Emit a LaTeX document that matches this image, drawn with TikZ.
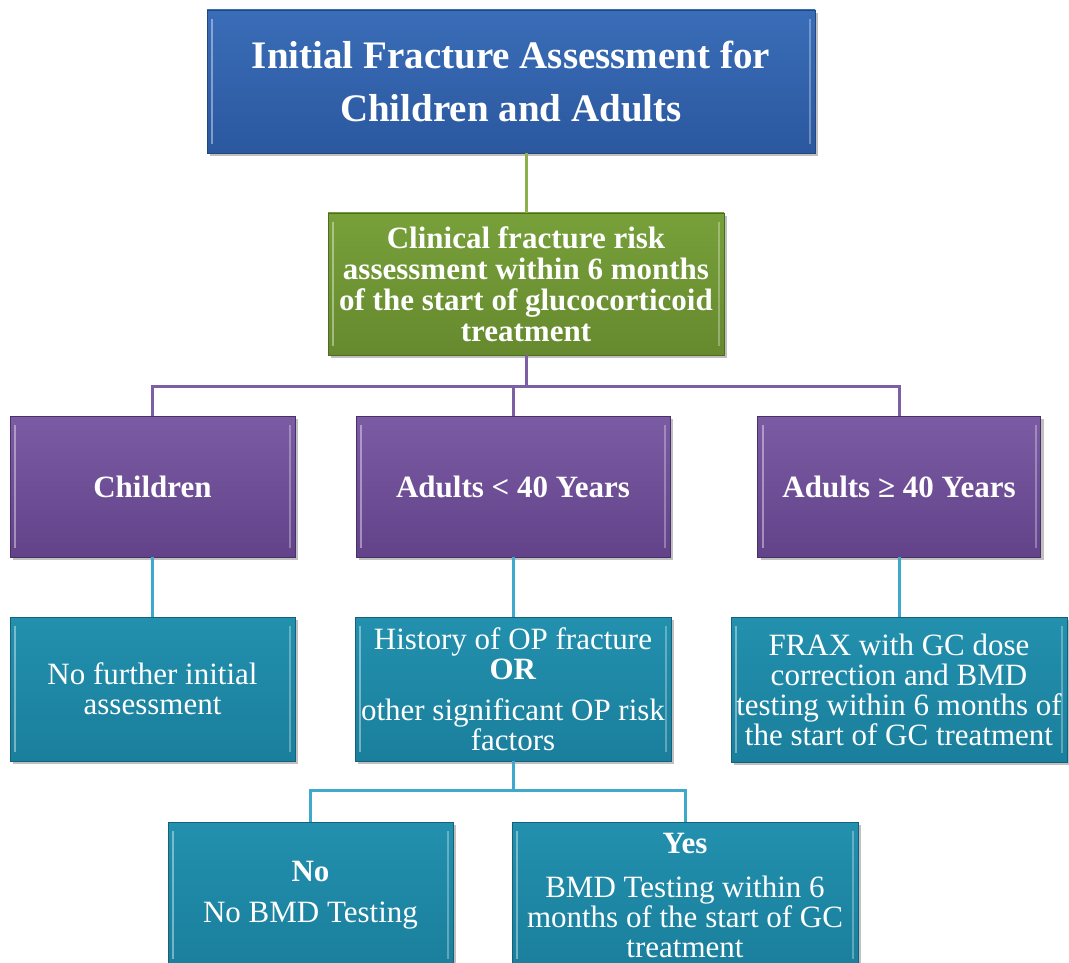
\documentclass[tikz,border=0pt]{standalone}
\usepackage{fontspec}
\setmainfont{Liberation Serif}
\usetikzlibrary{shadows}
\definecolor{blueT}{HTML}{3A6DB8}
\definecolor{blueB}{HTML}{2B589F}
\definecolor{blueE}{HTML}{21477F}
\definecolor{greenT}{HTML}{77A03A}
\definecolor{greenB}{HTML}{66892E}
\definecolor{greenE}{HTML}{4E6B22}
\definecolor{purT}{HTML}{7B5BA3}
\definecolor{purB}{HTML}{62438A}
\definecolor{purE}{HTML}{4A3068}
\definecolor{tealT}{HTML}{2290AE}
\definecolor{tealB}{HTML}{1A7F9C}
\definecolor{tealE}{HTML}{13617A}
\definecolor{lgreen}{HTML}{8DB04C}
\definecolor{lpur}{HTML}{7D5FA6}
\definecolor{lteal}{HTML}{3FA9CB}
\begin{document}
\begin{tikzpicture}[x=1pt,y=-1pt,
  box/.style={rectangle, inner sep=0pt, align=center, text=white,
    draw=#1E, line width=0.8pt, top color=#1T, bottom color=#1B,
    drop shadow={shadow xshift=3pt, shadow yshift=-3pt, opacity=0.35, fill=black!70},
    path picture={
      \draw[white, opacity=0.4, line width=2pt]
        ([shift={(5pt,-9pt)}]path picture bounding box.north west) --
        ([shift={(5pt,9pt)}]path picture bounding box.south west);
      \draw[white, opacity=0.3, line width=2pt]
        ([shift={(-5pt,-9pt)}]path picture bounding box.north east) --
        ([shift={(-5pt,9pt)}]path picture bounding box.south east);
    }},
  bigfont/.style={font=\fontsize{39}{53}\selectfont\bfseries},
  boldfont/.style={font=\fontsize{31}{31}\selectfont\bfseries},
  plainfont/.style={font=\fontsize{31}{30}\selectfont},
  conn/.style={line width=3pt, #1}
]
\clip (0,0) rectangle (1069,963);
\fill[white] (0,0) rectangle (1069,963);

% top
\node[box=blue, bigfont, minimum width=608pt, minimum height=143pt] (top) at (511,81.5)
  {Initial Fracture Assessment for\\Children and Adults};
% green
\node[box=green, boldfont, minimum width=396pt, minimum height=142pt] (clin) at (526,284)
  {Clinical fracture risk\\assessment within 6 months\\of the start of glucocorticoid\\treatment};
% purple
\node[box=pur, boldfont, minimum width=285pt, minimum height=141pt] (child) at (152.5,486.5) {Children};
\node[box=pur, boldfont, minimum width=314pt, minimum height=141pt] (ageL) at (513,486.5) {Adults < 40 Years};
\node[box=pur, boldfont, minimum width=283pt, minimum height=141pt] (ageG) at (899,486.5) {Adults ≥ 40 Years};
% teal row 1
\node[box=teal, plainfont, minimum width=285pt, minimum height=144pt] (tl) at (152.5,689)
  {No further initial\\assessment};
\node[box=teal, plainfont, minimum width=316pt, minimum height=144pt] (tm) at (513,689)
  {History of OP fracture\\\textbf{OR}\\[11pt]other significant OP risk\\factors};
\node[box=teal, plainfont, minimum width=336pt, minimum height=145pt] (tr) at (899,689.5)
  {FRAX with GC dose\\correction and BMD\\testing within 6 months of\\the start of GC treatment};
% teal row 2
\node[box=teal, plainfont, minimum width=285pt, minimum height=146pt] (no) at (310.5,895)
  {\textbf{No}\\[11pt]No BMD Testing};
\node[box=teal, plainfont, minimum width=346pt, minimum height=146pt] (yes) at (685,895)
  {\textbf{Yes}\\[14pt]BMD Testing within 6\\months of the start of GC\\treatment};

% connectors
\coordinate (bus1) at (526,386);
\coordinate (bus2) at (513,790);
\draw[conn=lgreen] (top.south -| clin.north) -- (clin.north);
\draw[conn=lpur] (clin.south) -- (clin.south |- bus1);
\draw[conn=lpur] (child.north) -- (child.north |- bus1) -- (ageG.north |- bus1) -- (ageG.north);
\draw[conn=lpur] (ageL.north |- bus1) -- (ageL.north);
\draw[conn=lteal] (child.south) -- (tl.north);
\draw[conn=lteal] (ageL.south) -- (tm.north);
\draw[conn=lteal] (ageG.south) -- (tr.north);
\draw[conn=lteal] (tm.south) -- (tm.south |- bus2);
\draw[conn=lteal] (no.north) -- (no.north |- bus2) -- (yes.north |- bus2) -- (yes.north);
\end{tikzpicture}
\end{document}
